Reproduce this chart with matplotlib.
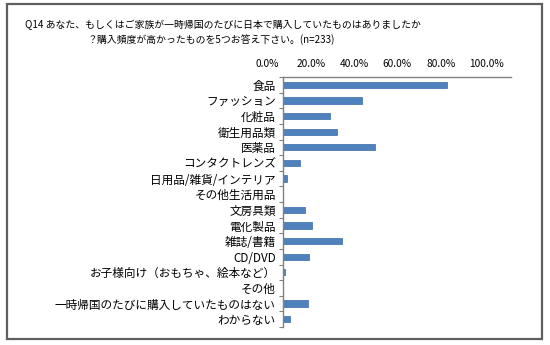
import matplotlib
matplotlib.use("Agg")
import matplotlib.pyplot as plt
from matplotlib.patches import Rectangle
from matplotlib.transforms import ScaledTranslation
import numpy as np

plt.rcParams['font.family'] = ['Noto Sans CJK JP', 'DejaVu Sans']

categories = ["食品", "ファッション", "化粧品", "衛生用品類", "医薬品", "コンタクトレンズ",
              "日用品/雑貨/インテリア", "その他生活用品", "文房具類", "電化製品", "雑誌/書籍",
              "CD/DVD", "お子様向け（おもちゃ、絵本など）", "その他",
              "一時帰国のたびに購入していたものはない", "わからない"]
values = [72.1, 34.8, 20.6, 24.0, 40.3, 7.7, 1.7, 0.0, 9.9, 12.9, 25.8, 11.6, 0.9, 0.0, 11.2, 3.0]
xticks = [0, 20, 40, 60, 80, 100]
title1 = "Q14 あなた、もしくはご家族が一時帰国のたびに日本で購入していたものはありましたか"
title2 = "？購入頻度が高かったものを5つお答え下さい。(n=233)"

fig = plt.figure(figsize=(5.5, 3.45), dpi=100)
fig.patch.set_facecolor('white')
# outer border
fig.patches.append(Rectangle((7/550, 1-339/345), (542-7)/550, (339-4)/345,
                             transform=fig.transFigure, fill=False,
                             edgecolor='#5f5f5f', linewidth=1.6))

ax = fig.add_axes([282.7/550, 1-327/345, (510.7-282.7)/550, (327-77)/345])
y = np.arange(len(categories))
ax.barh(y, values, height=0.4, color='#4f81bd', edgecolor='#3a6aa8', linewidth=0.5)
ax.set_xlim(0, 100)
ax.set_ylim(len(categories) - 0.5, -0.5)
ax.xaxis.tick_top()
ax.set_xticks(xticks)
ax.set_xticklabels([f"{v:.1f}%" for v in xticks], fontsize=7.3)
ax.tick_params(axis='x', length=0, pad=6)
# the original's tick labels sit slightly left of their gridpoints
shifts_px = [-15, -17.5, -20, -23, -24, -24.5]
for lab, s in zip(ax.get_xticklabels(), shifts_px):
    lab.set_transform(lab.get_transform() + ScaledTranslation(s / 100, 0, fig.dpi_scale_trans))
ax.set_yticks(y)
ax.set_yticklabels(categories, fontsize=8.4)
ax.tick_params(axis='y', length=0, pad=5)
ax.set_yticks(np.arange(len(categories) + 1) - 0.5, minor=True)
ax.tick_params(axis='y', which='minor', length=3, color='#808080', width=0.8)
for s in ['right', 'bottom']:
    ax.spines[s].set_visible(False)
for s in ['top', 'left']:
    ax.spines[s].set_color('#808080')
    ax.spines[s].set_linewidth(1.0)

fig.text(25/550, 1-25/345, title1, fontsize=7.1, va='center', ha='left')
fig.text(88/550, 1-40/345, title2, fontsize=7.1, va='center', ha='left')

fig.savefig("out.png", dpi=100)
